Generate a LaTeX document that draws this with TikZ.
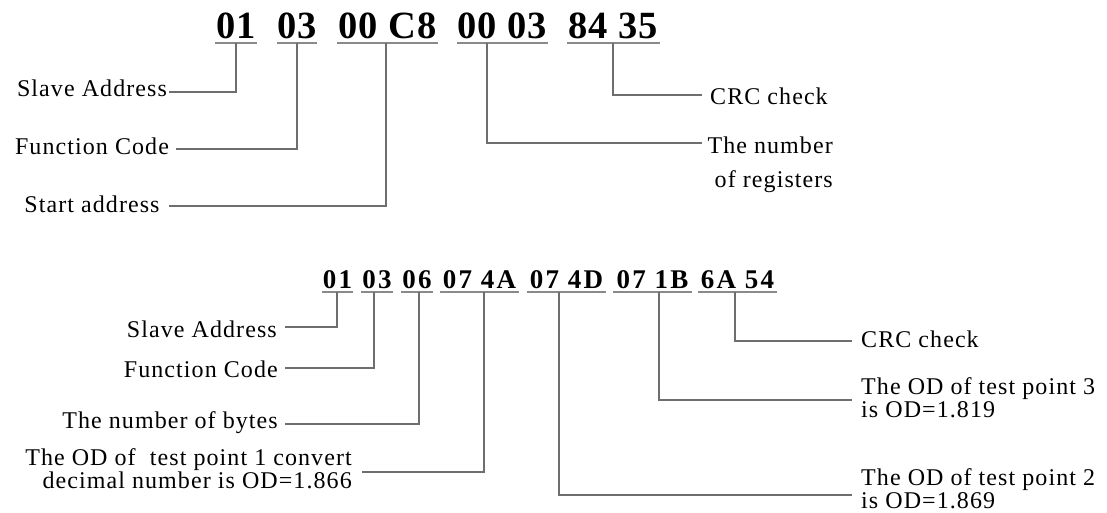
\documentclass[tikz,border=0pt]{standalone}
\usepackage{fontspec}
\setmainfont{Liberation Serif}
\newfontfamily\labfont[LetterSpace=4.5]{Liberation Serif}
\newfontfamily\hexbig[LetterSpace=2.5]{Liberation Serif Bold}
\newfontfamily\hexsmall[LetterSpace=8]{Liberation Serif Bold}
\definecolor{conn}{HTML}{6E6E6E}
\definecolor{uline}{HTML}{8A8A8A}
\tikzset{
  hexA/.style={inner sep=0pt, anchor=base, font=\hexbig\fontsize{38.5}{40}\selectfont},
  hexB/.style={inner sep=0pt, anchor=base, font=\hexsmall\fontsize{27}{28}\selectfont},
  lab/.style={inner sep=0pt, font=\labfont\fontsize{24}{23}\selectfont},
  conn/.style={draw=conn, line width=1.3pt},
  ul/.style={draw=uline, line width=2pt},
}
\begin{document}
\begin{tikzpicture}[x=1pt,y=-1pt]
\useasboundingbox (0,0) rectangle (1107,513);
% ---------- top frame ----------
\node[hexA, minimum width=42] (g1) at (236,39) {01};
\node[hexA, minimum width=40] (g2) at (297,39) {03};
\node[hexA, minimum width=101] (g3) at (387.5,39) {00 C8};
\node[hexA, minimum width=91] (g4) at (502.5,39) {00 03};
\node[hexA, minimum width=93] (g5) at (613.5,39) {84 35};
\foreach \g in {g1,g2,g3,g4,g5}{\draw[ul] (\g.west |- 0,43) -- (\g.east |- 0,43);}
\coordinate (s1) at (236,43);
\coordinate (s2) at (297,43);
\coordinate (s3) at (386,43);
\coordinate (s4) at (487,43);
\coordinate (s5) at (613,43);

\node[lab, anchor=base] (la1) at (92,97) {Slave Address};
\node[lab, anchor=base] (la2) at (92,155) {Function Code};
\node[lab, anchor=base] (la3) at (92,212) {Start address};
\node[lab, anchor=base west] (lb1) at (710,105) {CRC check};
\node[lab, anchor=base east, align=right, font=\labfont\fontsize{24}{34}\selectfont] (lb2) at (833,187) {The number\\of registers};
\coordinate (e1) at (169,92);
\coordinate (e2) at (176,149);
\coordinate (e3) at (169,206);
\coordinate (e4) at (702,95);
\coordinate (e5) at (702,143);
\draw[conn] (s1) |- (e1);
\draw[conn] (s2) |- (e2);
\draw[conn] (s3) |- (e3);
\draw[conn] (s5) |- (e4);
\draw[conn] (s4) |- (e5);

% ---------- response frame ----------
\node[hexB, minimum width=31] (h1) at (337.5,288) {01};
\node[hexB, minimum width=32] (h2) at (377,288) {03};
\node[hexB, minimum width=32] (h3) at (417,288) {06};
\node[hexB, minimum width=79] (h4) at (479.5,288) {07 4A};
\node[hexB, minimum width=79] (h5) at (566.5,288) {07 4D};
\node[hexB, minimum width=79] (h6) at (652.5,288) {07 1B};
\node[hexB, minimum width=79] (h7) at (737.5,288) {6A 54};
\foreach \g in {h1,h2,h3,h4,h5,h6,h7}{\draw[ul] (\g.west |- 0,292) -- (\g.east |- 0,292);}
\coordinate (t1) at (337,292);
\coordinate (t2) at (374,292);
\coordinate (t3) at (419,292);
\coordinate (t4) at (484,292);
\coordinate (t5) at (559,292);
\coordinate (t6) at (659,292);
\coordinate (t7) at (735,292);

\node[lab, anchor=base east] (lc1) at (277,337) {Slave Address};
\node[lab, anchor=base east] (lc2) at (278,377) {Function Code};
\node[lab, anchor=base east] (lc3) at (278,428) {The number of bytes};
\node[lab, anchor=base east, align=right, font=\labfont\fontsize{24}{21}\selectfont] (lc4) at (352,488) {The OD of~ test point 1 convert\\decimal number is OD=1.866};
\node[lab, anchor=base west] (ld1) at (861,347) {CRC check};
\node[lab, anchor=base west, align=left, font=\labfont\fontsize{24}{23}\selectfont] (ld2) at (861,417) {The OD of test point 3\\is OD=1.819};
\node[lab, anchor=base west, align=left, font=\labfont\fontsize{24}{23}\selectfont] (ld3) at (861,508) {The OD of test point 2\\is OD=1.869};
\coordinate (f1) at (285,327);
\coordinate (f2) at (285,368);
\coordinate (f3) at (285,424);
\coordinate (f4) at (362,472);
\coordinate (f5) at (852,341);
\coordinate (f6) at (852,400);
\coordinate (f7) at (852,495);
\draw[conn] (t1) |- (f1);
\draw[conn] (t2) |- (f2);
\draw[conn] (t3) |- (f3);
\draw[conn] (t4) |- (f4);
\draw[conn] (t7) |- (f5);
\draw[conn] (t6) |- (f6);
\draw[conn] (t5) |- (f7);
\end{tikzpicture}
\end{document}
